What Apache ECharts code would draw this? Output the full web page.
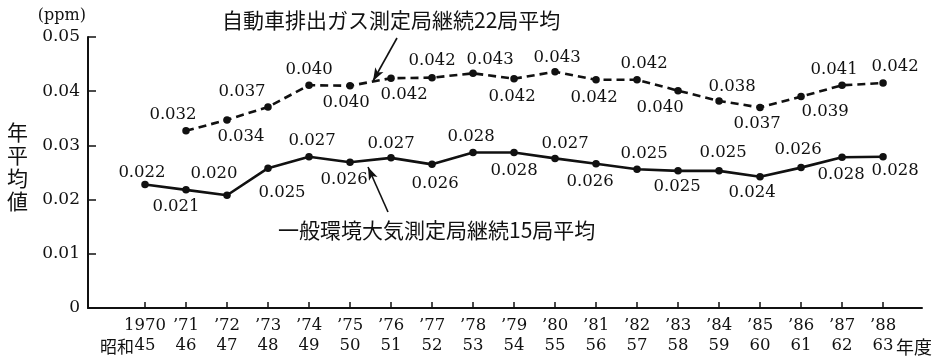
<!DOCTYPE html>
<html><head><meta charset="utf-8">
<script src="https://cdn.jsdelivr.net/npm/echarts@6/dist/echarts.min.js"></script>
<style>html,body{margin:0;padding:0;background:#fff}#c{width:946px;height:364px}</style>
</head><body><div id="c"></div>
<script>
// Categories (fiscal years)
const years = ['1970','’71','’72','’73','’74','’75','’76','’77','’78','’79','’80','’81','’82','’83','’84','’85','’86','’87','’88'];
const showaYears = ['45','46','47','48','49','50','51','52','53','54','55','56','57','58','59','60','61','62','63'];
// 自動車排出ガス測定局継続22局平均 (no value for 1970)
const autoValues = [null,0.0327,0.0347,0.0371,0.0411,0.0410,0.0424,0.0425,0.0433,0.0423,0.0436,0.0421,0.0421,0.0401,0.0382,0.0370,0.0390,0.0411,0.0415];
const autoLabels = [null,'0.032','0.034','0.037','0.040','0.040','0.042','0.042','0.043','0.042','0.043','0.042','0.042','0.040','0.038','0.037','0.039','0.041','0.042'];
// 一般環境大気測定局継続15局平均
const ambientValues = [0.0228,0.0218,0.0208,0.0258,0.0279,0.0269,0.0277,0.0265,0.0287,0.0287,0.0276,0.0266,0.0256,0.0253,0.0253,0.0242,0.0259,0.0278,0.0279];
const ambientLabels = ['0.022','0.021','0.020','0.025','0.027','0.026','0.027','0.026','0.028','0.028','0.027','0.026','0.025','0.025','0.025','0.024','0.026','0.028','0.028'];

// label placement (styling)
const autoLabelOffset = [null,[-13,-16],[14,17],[-26,-15],[0,-16],[-4,17],[13,17],[0,-17],[17,-14],[-2,18],[2,-14],[-2,18],[7,-16],[-18,17],[13,-14],[-3,16],[24,15],[-8,-16],[12,-16]];
const ambientLabelOffset = [[-3,-12],[-10,17],[-13,-22],[14,25],[3,-16],[-6,18],[0,-14],[3,19],[-2,-16],[0,18],[10,-15],[-6,18],[7,-16],[-1,16],[4,-18],[-8,16],[-3,-18],[-1,17],[12,14]];

const SERIF = 'DejaVu Serif';
const INK = '#111';

function buildData(values, labels, offsets){
  const out = [];
  values.forEach((v,i)=>{
    if (v == null) return;
    out.push({value:[i,v], label:{formatter: labels[i], offset: offsets[i]}});
  });
  return out;
}

const chart = echarts.init(document.getElementById('c'), null, {renderer:'canvas'});
chart.setOption({
  animation:false,
  backgroundColor:'#fff',
  grid:{left:88, right:24, top:37, bottom:56},
  xAxis:{
    type:'value', min:-1.39, max:18.95,
    splitLine:{show:false},
    axisLine:{show:true, onZero:false, lineStyle:{color:INK, width:2}},
    axisTick:{show:true, inside:true, length:6, lineStyle:{color:INK, width:1.5}, customValues: years.map((_,i)=>i)},
    axisLabel:{show:true, customValues: years.map((_,i)=>i), margin:8,
      formatter:(v)=> years[v] + '\n' + showaYears[v],
      fontFamily:SERIF, fontSize:16.5, color:INK, lineHeight:20}
  },
  yAxis:{
    type:'value', min:0, max:0.05, interval:0.01,
    name:'(ppm)', nameLocation:'end', nameGap:13,
    nameTextStyle:{fontFamily:SERIF, fontSize:16, color:INK, align:'right', padding:[0,2,0,0]},
    splitLine:{show:false},
    axisLine:{show:true, onZero:false, lineStyle:{color:INK, width:2}},
    axisTick:{show:true, inside:true, length:8, lineStyle:{color:INK, width:1.5}},
    axisLabel:{margin:8, fontFamily:SERIF, fontSize:17, color:INK,
      formatter:(v)=> v===0 ? '0' : v.toFixed(2)}
  },
  series:[
    {
      name:'自動車排出ガス測定局継続22局平均', type:'line',
      data: buildData(autoValues, autoLabels, autoLabelOffset),
      symbol:'circle', symbolSize:7.5,
      itemStyle:{color:INK},
      lineStyle:{color:INK, width:2.6, type:[8,5]},
      label:{show:true, position:'inside', fontFamily:SERIF, fontSize:16.5, color:INK},
      markLine:{silent:true, symbol:['none','arrow'], symbolSize:[7,13],
        label:{show:false}, lineStyle:{color:INK, width:1.6, type:'solid'},
        data:[[{x:397,y:38},{x:373,y:81}]]}
    },
    {
      name:'一般環境大気測定局継続15局平均', type:'line',
      data: buildData(ambientValues, ambientLabels, ambientLabelOffset),
      symbol:'circle', symbolSize:7.5,
      itemStyle:{color:INK},
      lineStyle:{color:INK, width:2.6},
      label:{show:true, position:'inside', fontFamily:SERIF, fontSize:16.5, color:INK},
      markLine:{silent:true, symbol:['none','arrow'], symbolSize:[7,13],
        label:{show:false}, lineStyle:{color:INK, width:1.6, type:'solid'},
        data:[[{x:388,y:212},{x:368,y:167}]]}
    }
  ],
  graphic:[
    {type:'text', left:222, top:10, style:{text:'自動車排出ガス測定局継続22局平均', font:'21px "Noto Sans CJK JP"', fill:INK}},
    {type:'text', left:278, top:220, style:{text:'一般環境大気測定局継続15局平均', font:'21px "Noto Sans CJK JP"', fill:INK}},
    {type:'text', left:7, top:121, style:{text:'年\n平\n均\n値', font:'21px "Noto Sans CJK JP"', lineHeight:23, fill:INK}},
    {type:'text', right:946-134, top:338, style:{text:'昭和', font:'17px "Noto Sans CJK JP"', fill:INK, align:'right'}},
    {type:'text', left:896, top:338, style:{text:'年度', font:'18px "Noto Sans CJK JP"', fill:INK}}
  ]
});
</script></body></html>
